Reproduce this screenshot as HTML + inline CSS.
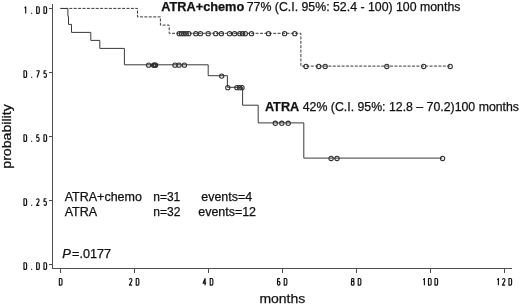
<!DOCTYPE html>
<html><head><meta charset="utf-8"><title>KM</title>
<style>html,body{margin:0;padding:0;background:#fff;width:520px;height:304px;overflow:hidden}
svg{display:block;font-family:"Liberation Sans",sans-serif;will-change:transform}</style></head>
<body>
<svg width="520" height="304" viewBox="0 0 520 304"><g stroke="#4d4d4d" stroke-width="1" fill="none" shape-rendering="crispEdges">
<path d="M52.5,4 V268.5 H512"/>
<path d="M49,8.5 H52"/>
<path d="M49,72.5 H52"/>
<path d="M49,136.5 H52"/>
<path d="M49,200.5 H52"/>
<path d="M49,264.5 H52"/>
<path d="M60.5,269 V273"/>
<path d="M134.5,269 V273"/>
<path d="M208.5,269 V273"/>
<path d="M282.5,269 V273"/>
<path d="M356.5,269 V273"/>
<path d="M430.5,269 V273"/>
<path d="M504.5,269 V273"/>
</g>
<g stroke="#111" stroke-width="1.15" fill="none" stroke-linejoin="round">
<path transform="translate(24.40,6.28) scale(1,0.943)" vector-effect="non-scaling-stroke" d="M0.2,1.9 L1.3,0.5 V7.6"/><rect x="31.10" y="12.75" width="1.1" height="1.1" fill="#111111" stroke="none"/><path transform="translate(36.10,6.28) scale(1,0.943)" vector-effect="non-scaling-stroke" d="M0.55,0.5 H2.1 Q3.2,0.5 3.2,1.9 V6.1 Q3.2,7.5 2.1,7.5 H0.55 Z"/><path transform="translate(43.40,6.28) scale(1,0.943)" vector-effect="non-scaling-stroke" d="M0.55,0.5 H2.1 Q3.2,0.5 3.2,1.9 V6.1 Q3.2,7.5 2.1,7.5 H0.55 Z"/>
<path transform="translate(23.40,70.28) scale(1,0.943)" vector-effect="non-scaling-stroke" d="M0.55,0.5 H2.1 Q3.2,0.5 3.2,1.9 V6.1 Q3.2,7.5 2.1,7.5 H0.55 Z"/><rect x="31.10" y="76.75" width="1.1" height="1.1" fill="#111111" stroke="none"/><path transform="translate(36.10,70.28) scale(1,0.943)" vector-effect="non-scaling-stroke" d="M0.3,0.5 H3.2 L1,7.6"/><path transform="translate(43.40,70.28) scale(1,0.943)" vector-effect="non-scaling-stroke" d="M3,0.5 H0.8 L0.6,3.6 Q1,3.1 1.8,3.1 Q3,3.1 3,5 V5.8 Q3,7.5 1.75,7.5 Q0.7,7.5 0.5,6.5"/>
<path transform="translate(23.40,134.28) scale(1,0.943)" vector-effect="non-scaling-stroke" d="M0.55,0.5 H2.1 Q3.2,0.5 3.2,1.9 V6.1 Q3.2,7.5 2.1,7.5 H0.55 Z"/><rect x="31.10" y="140.75" width="1.1" height="1.1" fill="#111111" stroke="none"/><path transform="translate(36.10,134.28) scale(1,0.943)" vector-effect="non-scaling-stroke" d="M3,0.5 H0.8 L0.6,3.6 Q1,3.1 1.8,3.1 Q3,3.1 3,5 V5.8 Q3,7.5 1.75,7.5 Q0.7,7.5 0.5,6.5"/><path transform="translate(43.40,134.28) scale(1,0.943)" vector-effect="non-scaling-stroke" d="M0.55,0.5 H2.1 Q3.2,0.5 3.2,1.9 V6.1 Q3.2,7.5 2.1,7.5 H0.55 Z"/>
<path transform="translate(23.40,198.28) scale(1,0.943)" vector-effect="non-scaling-stroke" d="M0.55,0.5 H2.1 Q3.2,0.5 3.2,1.9 V6.1 Q3.2,7.5 2.1,7.5 H0.55 Z"/><rect x="31.10" y="204.75" width="1.1" height="1.1" fill="#111111" stroke="none"/><path transform="translate(36.10,198.28) scale(1,0.943)" vector-effect="non-scaling-stroke" d="M0.5,1.9 Q0.6,0.5 1.75,0.5 Q3,0.5 3,2 Q3,3 2.3,4 L0.5,7.5 H3.2"/><path transform="translate(43.40,198.28) scale(1,0.943)" vector-effect="non-scaling-stroke" d="M3,0.5 H0.8 L0.6,3.6 Q1,3.1 1.8,3.1 Q3,3.1 3,5 V5.8 Q3,7.5 1.75,7.5 Q0.7,7.5 0.5,6.5"/>
<path transform="translate(23.40,262.28) scale(1,0.943)" vector-effect="non-scaling-stroke" d="M0.55,0.5 H2.1 Q3.2,0.5 3.2,1.9 V6.1 Q3.2,7.5 2.1,7.5 H0.55 Z"/><rect x="31.10" y="268.75" width="1.1" height="1.1" fill="#111111" stroke="none"/><path transform="translate(36.10,262.28) scale(1,0.943)" vector-effect="non-scaling-stroke" d="M0.55,0.5 H2.1 Q3.2,0.5 3.2,1.9 V6.1 Q3.2,7.5 2.1,7.5 H0.55 Z"/><path transform="translate(43.40,262.28) scale(1,0.943)" vector-effect="non-scaling-stroke" d="M0.55,0.5 H2.1 Q3.2,0.5 3.2,1.9 V6.1 Q3.2,7.5 2.1,7.5 H0.55 Z"/>
<path transform="translate(58.80,278.03) scale(1,0.943)" vector-effect="non-scaling-stroke" d="M0.55,0.5 H2.1 Q3.2,0.5 3.2,1.9 V6.1 Q3.2,7.5 2.1,7.5 H0.55 Z"/>
<path transform="translate(128.90,278.03) scale(1,0.943)" vector-effect="non-scaling-stroke" d="M0.5,1.9 Q0.6,0.5 1.75,0.5 Q3,0.5 3,2 Q3,3 2.3,4 L0.5,7.5 H3.2"/><path transform="translate(135.65,278.03) scale(1,0.943)" vector-effect="non-scaling-stroke" d="M0.55,0.5 H2.1 Q3.2,0.5 3.2,1.9 V6.1 Q3.2,7.5 2.1,7.5 H0.55 Z"/>
<path transform="translate(202.90,278.03) scale(1,0.943)" vector-effect="non-scaling-stroke" d="M2.2,7.6 V0.5 L0.2,5.4 H3.3"/><path transform="translate(209.65,278.03) scale(1,0.943)" vector-effect="non-scaling-stroke" d="M0.55,0.5 H2.1 Q3.2,0.5 3.2,1.9 V6.1 Q3.2,7.5 2.1,7.5 H0.55 Z"/>
<path transform="translate(276.90,278.03) scale(1,0.943)" vector-effect="non-scaling-stroke" d="M3.0,0.6 H1.3 Q0.6,0.6 0.6,1.5 V6.4 Q0.6,7.5 1.8,7.5 Q3,7.5 3,6.4 V4.7 Q3,3.6 1.8,3.6 H0.6"/><path transform="translate(283.65,278.03) scale(1,0.943)" vector-effect="non-scaling-stroke" d="M0.55,0.5 H2.1 Q3.2,0.5 3.2,1.9 V6.1 Q3.2,7.5 2.1,7.5 H0.55 Z"/>
<path transform="translate(350.90,278.03) scale(1,0.943)" vector-effect="non-scaling-stroke" d="M1.8,3.6 H1.4 Q0.7,3.6 0.7,2.8 V1.3 Q0.7,0.5 1.5,0.5 H2.1 Q2.9,0.5 2.9,1.3 V2.8 Q2.9,3.6 2.1,3.6 H1.4 Q0.5,3.6 0.5,4.5 V6.5 Q0.5,7.5 1.5,7.5 H2.1 Q3.1,7.5 3.1,6.5 V4.5 Q3.1,3.6 2.1,3.6 Z"/><path transform="translate(357.65,278.03) scale(1,0.943)" vector-effect="non-scaling-stroke" d="M0.55,0.5 H2.1 Q3.2,0.5 3.2,1.9 V6.1 Q3.2,7.5 2.1,7.5 H0.55 Z"/>
<path transform="translate(423.10,278.03) scale(1,0.943)" vector-effect="non-scaling-stroke" d="M0.2,1.9 L1.3,0.5 V7.6"/><path transform="translate(427.95,278.03) scale(1,0.943)" vector-effect="non-scaling-stroke" d="M0.55,0.5 H2.1 Q3.2,0.5 3.2,1.9 V6.1 Q3.2,7.5 2.1,7.5 H0.55 Z"/><path transform="translate(434.40,278.03) scale(1,0.943)" vector-effect="non-scaling-stroke" d="M0.55,0.5 H2.1 Q3.2,0.5 3.2,1.9 V6.1 Q3.2,7.5 2.1,7.5 H0.55 Z"/>
<path transform="translate(497.10,278.03) scale(1,0.943)" vector-effect="non-scaling-stroke" d="M0.2,1.9 L1.3,0.5 V7.6"/><path transform="translate(501.95,278.03) scale(1,0.943)" vector-effect="non-scaling-stroke" d="M0.5,1.9 Q0.6,0.5 1.75,0.5 Q3,0.5 3,2 Q3,3 2.3,4 L0.5,7.5 H3.2"/><path transform="translate(508.40,278.03) scale(1,0.943)" vector-effect="non-scaling-stroke" d="M0.55,0.5 H2.1 Q3.2,0.5 3.2,1.9 V6.1 Q3.2,7.5 2.1,7.5 H0.55 Z"/>
</g>
<g fill="none" stroke="#3a3a3a" stroke-width="1">
<path d="M60.5,8.5 H67.9 V16.3 H68.5 V24.4 H71.5 V32.4 H90.8 V40.4 H99.8 V48.4 H124.4 V64.8 H208.2 V75.7 H227.4 V87.3 H242.6 V105.2 H258.2 V122.9 H303.8 V158.1 H442.4"/>
<path d="M60.5,8.4 H137.5 V16.9 H160.4 V25.1 H169.2 V33.3 H300.9 V66.1 H450.2" stroke-dasharray="3 1.4"/>
</g>
<g fill="none" stroke="#303030" stroke-width="1.05">
<circle cx="148.6" cy="65.15" r="2.15"/>
<circle cx="153.6" cy="65.15" r="2.15"/>
<circle cx="154.6" cy="65.15" r="2.15"/>
<circle cx="155.6" cy="65.15" r="2.15"/>
<circle cx="175.0" cy="65.15" r="2.15"/>
<circle cx="179.0" cy="65.15" r="2.15"/>
<circle cx="184.4" cy="65.15" r="2.15"/>
<circle cx="221.7" cy="76.05" r="2.15"/>
<circle cx="227.8" cy="87.65" r="2.15"/>
<circle cx="236.9" cy="87.65" r="2.15"/>
<circle cx="239.5" cy="87.65" r="2.15"/>
<circle cx="242.0" cy="87.65" r="2.15"/>
<circle cx="275.3" cy="123.25" r="2.15"/>
<circle cx="281.8" cy="123.25" r="2.15"/>
<circle cx="288.2" cy="123.25" r="2.15"/>
<circle cx="331.1" cy="158.45" r="2.15"/>
<circle cx="337.0" cy="158.45" r="2.15"/>
<circle cx="442.6" cy="158.45" r="2.15"/>
<circle cx="179.2" cy="33.65" r="2.15"/>
<circle cx="181.5" cy="33.65" r="2.15"/>
<circle cx="183.8" cy="33.65" r="2.15"/>
<circle cx="186.2" cy="33.65" r="2.15"/>
<circle cx="188.8" cy="33.65" r="2.15"/>
<circle cx="195.8" cy="33.65" r="2.15"/>
<circle cx="200.4" cy="33.65" r="2.15"/>
<circle cx="208.2" cy="33.65" r="2.15"/>
<circle cx="215.7" cy="33.65" r="2.15"/>
<circle cx="221.4" cy="33.65" r="2.15"/>
<circle cx="229.6" cy="33.65" r="2.15"/>
<circle cx="234.6" cy="33.65" r="2.15"/>
<circle cx="239.8" cy="33.65" r="2.15"/>
<circle cx="242.6" cy="33.65" r="2.15"/>
<circle cx="245.3" cy="33.65" r="2.15"/>
<circle cx="251.5" cy="33.65" r="2.15"/>
<circle cx="268.5" cy="33.65" r="2.15"/>
<circle cx="284.6" cy="33.65" r="2.15"/>
<circle cx="294.8" cy="33.65" r="2.15"/>
<circle cx="306.0" cy="66.45" r="2.15"/>
<circle cx="318.7" cy="66.45" r="2.15"/>
<circle cx="325.2" cy="66.45" r="2.15"/>
<circle cx="386.8" cy="66.45" r="2.15"/>
<circle cx="423.7" cy="66.45" r="2.15"/>
<circle cx="450.2" cy="66.45" r="2.15"/>
</g>
<g font-family="Liberation Sans, sans-serif" fill="#111111" stroke="#111111" stroke-width="0.25">
<text x="161.30" y="10.6" font-size="12" font-weight="bold" textLength="82.93" lengthAdjust="spacingAndGlyphs">ATRA+chemo</text>
<text x="246.76" y="10.6" font-size="12" textLength="213.65" lengthAdjust="spacingAndGlyphs">77% (C.I. 95%: 52.4 - 100) 100 months</text>
<text x="264.90" y="110.6" font-size="12" font-weight="bold" textLength="34.33" lengthAdjust="spacingAndGlyphs">ATRA</text>
<text x="302.74" y="110.6" font-size="12" textLength="216.29" lengthAdjust="spacingAndGlyphs">42% (C.I. 95%: 12.8 – 70.2)100 months</text>
<text x="64.70" y="201.2" font-size="12" textLength="77.24" lengthAdjust="spacingAndGlyphs">ATRA+chemo</text>
<text x="64.70" y="215.6" font-size="12" textLength="32.50" lengthAdjust="spacingAndGlyphs">ATRA</text>
<text x="153.25" y="201.2" font-size="12" textLength="27.00" lengthAdjust="spacingAndGlyphs">n=31</text>
<text x="153.25" y="215.6" font-size="12" textLength="27.11" lengthAdjust="spacingAndGlyphs">n=32</text>
<text x="201.28" y="201.2" font-size="12" textLength="50.93" lengthAdjust="spacingAndGlyphs">events=4</text>
<text x="198.28" y="215.6" font-size="12" textLength="57.73" lengthAdjust="spacingAndGlyphs">events=12</text>
<text x="62.20" y="257.8" font-size="12" textLength="8.66" lengthAdjust="spacingAndGlyphs"><tspan font-style="italic">P</tspan></text>
<text x="72.04" y="257.8" font-size="12" textLength="39.03" lengthAdjust="spacingAndGlyphs">=.0177</text>
<text x="259.40" y="302.6" font-size="13.6" textLength="45.87" lengthAdjust="spacingAndGlyphs">months</text>
<text transform="translate(10.9,168.71) rotate(-90)" x="0" y="0" font-size="13.6" textLength="64.41" lengthAdjust="spacingAndGlyphs">probability</text>
</g></svg>
</body></html>
